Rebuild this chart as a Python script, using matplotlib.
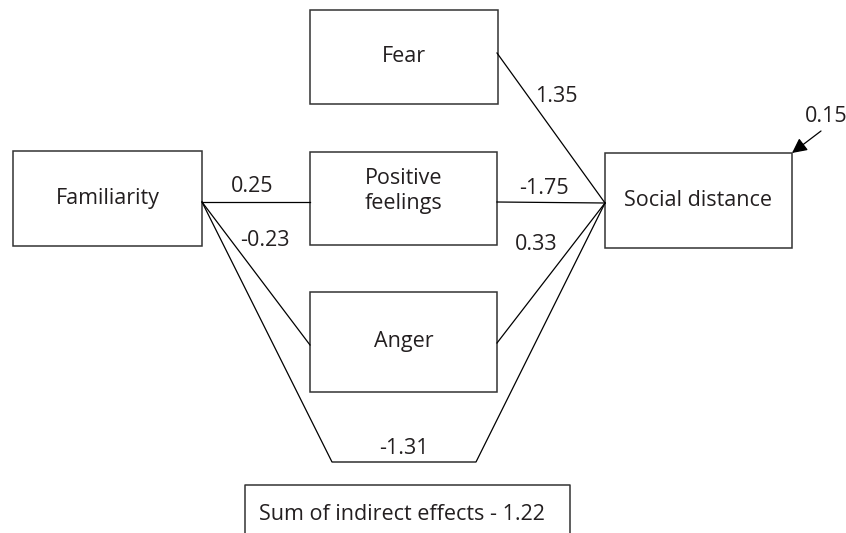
import matplotlib.pyplot as plt
from matplotlib.patches import Rectangle

# node labels and path coefficients
nodes = ["Familiarity", "Fear", "Positive\nfeelings", "Anger", "Social distance"]
coef_fam_pos = 0.25
coef_fam_anger = -0.23
coef_fear_sd = 1.35
coef_pos_sd = -1.75
coef_anger_sd = 0.33
coef_direct = -1.31
residual = 0.15
indirect_sum = 1.22

# layout in pixels (x0, y0, x1, y1), y grows downward
boxes = {
    "Familiarity": (13, 151, 202, 246),
    "Fear": (310, 10, 498, 104),
    "Positive\nfeelings": (310, 152, 497, 245),
    "Anger": (310, 292, 497, 392),
    "Social distance": (605, 153, 792, 248),
}
text_y = {"Fear": 57, "Positive\nfeelings": 191}

plt.rcParams["font.family"] = ["Open Sans", "DejaVu Sans"]

fig = plt.figure(figsize=(8.46, 5.33), dpi=100)
ax = fig.add_axes([0, 0, 1, 1])
ax.set_xlim(0, 846)
ax.set_ylim(533, 0)
ax.axis("off")

fs = 15.5
for name in nodes:
    x0, y0, x1, y1 = boxes[name]
    ax.add_patch(Rectangle((x0, y0), x1 - x0, y1 - y0, fill=False,
                           edgecolor="#333333", lw=1.1))
    ty = text_y.get(name, (y0 + y1) / 2)
    ax.text((x0 + x1) / 2, ty, name, ha="center", va="center",
            fontsize=fs, color="#231f20", linespacing=1.2)

src = (202, 202)
dst = (605, 203)
lw = 0.9
# Familiarity -> Positive feelings
ax.plot([src[0], 310], [src[1], src[1]], color="black", lw=lw)
# Familiarity -> Anger
ax.plot([src[0], 310], [src[1], 345], color="black", lw=lw)
# Fear -> Social distance
ax.plot([497, dst[0]], [53, dst[1]], color="black", lw=lw)
# Positive feelings -> Social distance
ax.plot([497, dst[0]], [202, dst[1]], color="black", lw=lw)
# Anger -> Social distance
ax.plot([497, dst[0]], [343, dst[1]], color="black", lw=lw)
# direct path, drawn around the bottom
ax.plot([src[0], 332, 476, dst[0]], [src[1], 462, 462, dst[1]], color="black", lw=lw)

# residual arrow
ax.annotate("", xy=(792, 153), xytext=(821, 131),
            arrowprops=dict(arrowstyle="-|>,head_length=0.9,head_width=0.45",
                            color="black", lw=0.9, shrinkA=0, shrinkB=0))

def fmt(v):
    return f"{v:.2f}"

labels = [
    (fmt(coef_fam_pos), 252, 186),
    (fmt(coef_fam_anger), 265, 240),
    (fmt(coef_fear_sd), 556, 96),
    (fmt(coef_pos_sd), 544, 188),
    (fmt(coef_anger_sd), 536, 245),
    (fmt(coef_direct), 404, 448),
    (fmt(residual), 826, 116),
]
for s, x, y in labels:
    ax.text(x, y, s, ha="center", va="center", fontsize=fs, color="#231f20")

# summary box, cut off by the bottom edge
ax.plot([245, 245, 570, 570], [540, 485, 485, 540], color="#333333", lw=1.1)
ax.text(402, 514, f"Sum of indirect effects - {indirect_sum:.2f}",
        ha="center", va="center", fontsize=fs, color="#231f20")

fig.savefig("out.png", dpi=100)
